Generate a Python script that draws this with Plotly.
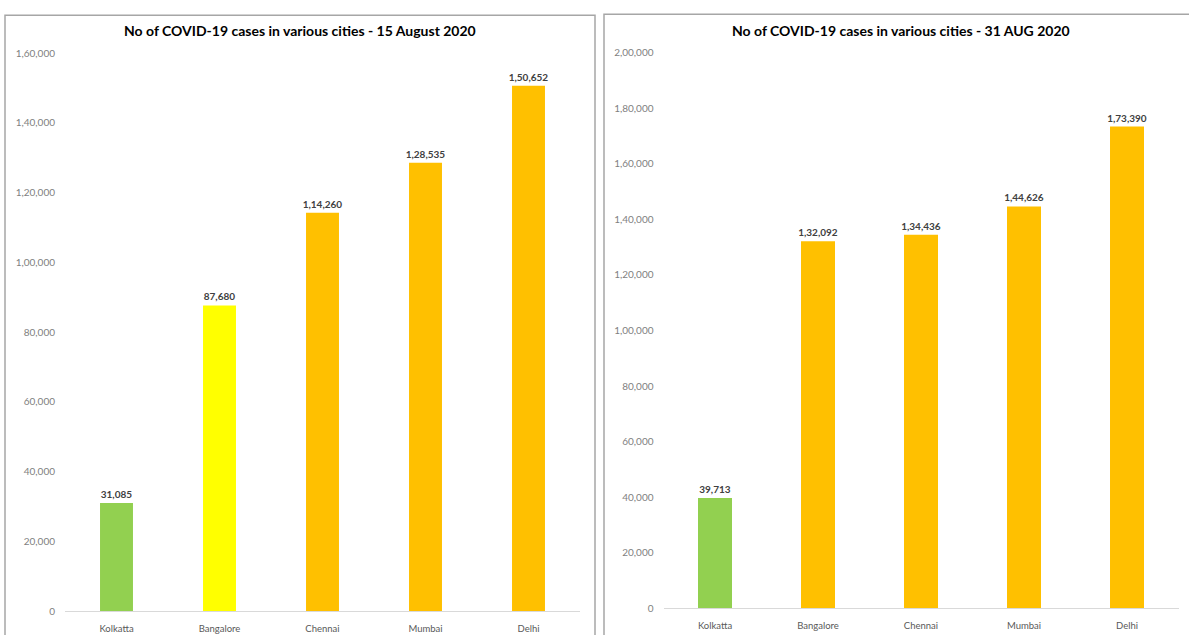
import plotly.graph_objects as go

cities = ["Kolkatta", "Bangalore", "Chennai", "Mumbai", "Delhi"]
cases_aug15 = [31085, 87680, 114260, 128535, 150652]
cases_aug31 = [39713, 132092, 134436, 144626, 173390]
colors_aug15 = ["#92D050", "#FFFF00", "#FFC000", "#FFC000", "#FFC000"]
colors_aug31 = ["#92D050", "#FFC000", "#FFC000", "#FFC000", "#FFC000"]
ticks_left = [0, 20000, 40000, 60000, 80000, 100000, 120000, 140000, 160000]
ticks_right = [0, 20000, 40000, 60000, 80000, 100000, 120000, 140000, 160000, 180000, 200000]
title_left = "No of COVID-19 cases in various cities - 15 August 2020"
title_right = "No of COVID-19 cases in various cities - 31 AUG 2020"


def indian(n):
    s = str(int(n))
    if len(s) <= 3:
        return s
    last3 = s[-3:]
    rest = s[:-3]
    parts = []
    while len(rest) > 2:
        parts.insert(0, rest[-2:])
        rest = rest[:-2]
    if rest:
        parts.insert(0, rest)
    return ",".join(parts) + "," + last3


W, H = 1189, 635
px = lambda x: x / W
py = lambda y: 1 - y / H

FONT = "Lato"
fig = go.Figure()
fig.add_trace(go.Bar(
    x=cities, y=cases_aug15, marker=dict(color=colors_aug15, line=dict(width=0)),
    text=[indian(v) for v in cases_aug15], textposition="outside", constraintext="none",
    textfont=dict(family=FONT, size=10, color="#404040", weight="bold"),
    cliponaxis=False, width=0.32, xaxis="x", yaxis="y", showlegend=False,
    hoverinfo="x+y"))
fig.add_trace(go.Bar(
    x=cities, y=cases_aug31, marker=dict(color=colors_aug31, line=dict(width=0)),
    text=[indian(v) for v in cases_aug31], textposition="outside", constraintext="none",
    textfont=dict(family=FONT, size=10, color="#404040", weight="bold"),
    cliponaxis=False, width=0.33, xaxis="x2", yaxis="y2", showlegend=False,
    hoverinfo="x+y"))

xaxis_common = dict(showgrid=False, zeroline=False, ticks="", showline=True,
                    linecolor="#d9d9d9", linewidth=1, ticklabelstandoff=8,
                    tickfont=dict(family=FONT, size=9.5, color="#595959"))
yaxis_common = dict(showgrid=False, zeroline=False, ticks="", showline=False,
                    ticklabelstandoff=9,
                    tickfont=dict(family=FONT, size=10, color="#7f7f7f"))

fig.update_layout(
    width=W, height=H, margin=dict(l=0, r=0, t=0, b=0),
    paper_bgcolor="white", plot_bgcolor="white",
    font=dict(family=FONT),
    xaxis=dict(domain=[px(65), px(580)], anchor="y", **xaxis_common),
    yaxis=dict(domain=[py(617), py(47)], range=[0, 160000], anchor="x",
               tickvals=ticks_left, ticktext=[indian(v) for v in ticks_left],
               **yaxis_common),
    xaxis2=dict(domain=[px(663.5), px(1178.5)], anchor="y2", **xaxis_common),
    yaxis2=dict(domain=[py(614), py(46.5)], range=[0, 200000], anchor="x2",
                tickvals=ticks_right, ticktext=[indian(v) for v in ticks_right],
                **yaxis_common),
    annotations=[
        dict(text="<b>" + title_left + "</b>", x=px(300), y=py(24.5), xref="paper", yref="paper",
             showarrow=False, font=dict(family=FONT, size=14, color="#000000"),
             xanchor="center", yanchor="middle"),
        dict(text="<b>" + title_right + "</b>", x=px(901), y=py(24.5), xref="paper", yref="paper",
             showarrow=False, font=dict(family=FONT, size=14, color="#000000"),
             xanchor="center", yanchor="middle"),
    ],
    shapes=[
        dict(type="rect", xref="paper", yref="paper", x0=px(5), x1=px(595),
             y0=-0.05, y1=py(8.5), line=dict(color="#a6a6a6", width=1.5)),
        dict(type="rect", xref="paper", yref="paper", x0=px(604), x1=1.05,
             y0=-0.05, y1=py(7.5), line=dict(color="#a6a6a6", width=1.5)),
    ],
)

fig.write_html("out.html")
